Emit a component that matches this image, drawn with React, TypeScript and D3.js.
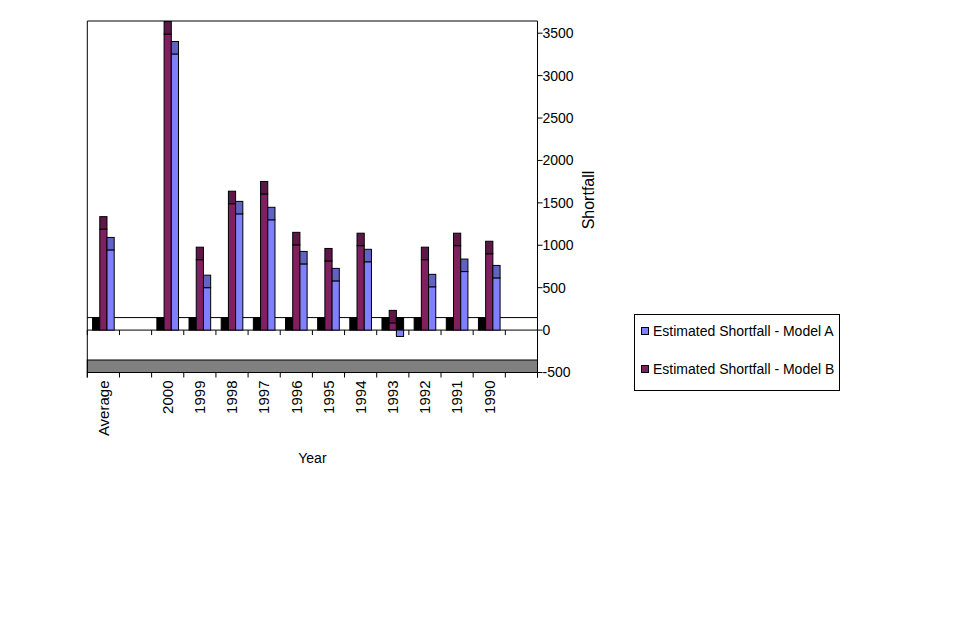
import React from "react";
import * as d3 from "d3";

const categories = ["Average", "", "2000", "1999", "1998", "1997", "1996", "1995", "1994", "1993", "1992", "1991", "1990", ""];
const modelA = [945, null, 3255, 500, 1370, 1300, 780, 580, 805, -75, 510, 690, 615, null];
const modelB = [1190, null, 3490, 830, 1490, 1605, 1005, 815, 995, 85, 830, 995, 900, null];
const yTicks = [-500, 0, 500, 1000, 1500, 2000, 2500, 3000, 3500];
const seriesNames = ["Estimated Shortfall - Model A", "Estimated Shortfall - Model B"];

const W = 977;
const H = 627;
const FONT = "Liberation Sans, Arial, sans-serif";

export default function App() {
  const left = 87.3;
  const right = 537.5;
  const top = 21;
  const depth = 12.5;

  const x = d3.scaleBand<number>().domain(categories.map((_, i) => i)).range([left, right]).padding(0);
  const sub = d3.scaleBand<string>().domain(["shadow", "B", "A"]).range([0, x.bandwidth()]).paddingInner(0).paddingOuter(0.73);
  const y = d3.scaleLinear().domain([-500, 3500]).range([372.5, 33.2]);
  const y0 = y(0);
  const yMin = y(-500);

  const colors = {
    A: { main: "#8080FF", cap: "#6262C4" },
    B: { main: "#802060", cap: "#5E1848" },
  };

  const bw = sub.bandwidth();

  const bars: JSX.Element[] = [];
  categories.forEach((_, i) => {
    const a = modelA[i];
    const b = modelB[i];
    if (a == null || b == null) return;
    const cx = x(i)!;
    // shadow (3D side) at back
    bars.push(
      <rect key={`s${i}`} x={cx + sub("shadow")!} y={y0 - depth} width={bw} height={depth} fill="#000" stroke="#000" strokeWidth={1} />
    );
    const drawBar = (key: "A" | "B", v: number) => {
      const bx = cx + sub(key)!;
      const c = colors[key];
      if (v >= 0) {
        bars.push(
          <g key={`${key}${i}`}>
            <rect x={bx} y={y(v)} width={bw} height={y0 - y(v)} fill={c.main} stroke="#000" strokeWidth={1} />
            <rect x={bx} y={y(v) - depth} width={bw} height={depth} fill={c.cap} stroke="#000" strokeWidth={1} />
          </g>
        );
      } else {
        bars.push(
          <g key={`${key}${i}`}>
            <rect x={bx} y={y0 - depth} width={bw} height={depth} fill="#000" stroke="#000" strokeWidth={1} />
            <rect x={bx} y={y0} width={bw} height={y(v) - y0} fill={c.main} stroke="#000" strokeWidth={1} />
          </g>
        );
      }
    };
    drawBar("B", b);
    drawBar("A", a);
  });

  const boundaries = d3.range(categories.length + 1).map((i) => left + i * x.step());

  return (
    <svg width={W} height={H} style={{ position: "absolute", left: 0, top: 0, background: "#fff" }} fontFamily={FONT}>
      <rect x={0} y={0} width={W} height={H} fill="#fff" />
      {/* floor lines */}
      <line x1={left} x2={right} y1={y0 - depth} y2={y0 - depth} stroke="#000" strokeWidth={1} />
      <line x1={left} x2={right} y1={y0} y2={y0} stroke="#000" strokeWidth={1} />
      {/* bottom gray floor */}
      <rect x={left} y={yMin - depth} width={right - left} height={depth} fill="#808080" stroke="#000" strokeWidth={1} />
      {/* ticks under zero line and gray floor */}
      {boundaries.map((bx, i) => (
        <g key={`t${i}`}>
          <line x1={bx} x2={bx} y1={y0} y2={y0 + 5} stroke="#000" strokeWidth={1} />
          <line x1={bx} x2={bx} y1={yMin} y2={yMin + 5} stroke="#000" strokeWidth={1} />
        </g>
      ))}
      {bars}
      {/* frame */}
      <line x1={left} x2={right} y1={top} y2={top} stroke="#000" strokeWidth={1} />
      <line x1={left} x2={left} y1={top} y2={yMin + 5} stroke="#000" strokeWidth={1} />
      <line x1={right} x2={right} y1={top} y2={yMin + 5} stroke="#000" strokeWidth={1} />
      {/* y axis ticks and labels */}
      {yTicks.map((t) => (
        <g key={`y${t}`}>
          <line x1={right} x2={right + 5} y1={y(t)} y2={y(t)} stroke="#000" strokeWidth={1} />
          <text x={right + 5} y={y(t)} dy="0.35em" fontSize={14} fill="#000">
            {t}
          </text>
        </g>
      ))}
      <text transform={`translate(594,200) rotate(-90)`} textAnchor="middle" fontSize={16} fill="#000">
        Shortfall
      </text>
      {/* category labels */}
      {categories.map((c, i) =>
        c ? (
          <text
            key={`c${i}`}
            transform={`translate(${x(i)! + x.bandwidth() / 2},${yMin + 8}) rotate(-90)`}
            textAnchor="end"
            dy="0.35em"
            fontSize={15}
            fill="#000"
          >
            {c}
          </text>
        ) : null
      )}
      <text x={(left + right) / 2} y={463} textAnchor="middle" fontSize={14} fill="#000">
        Year
      </text>
      {/* legend */}
      <rect x={634.5} y={314.5} width={205} height={76} fill="#fff" stroke="#000" strokeWidth={1} />
      {seriesNames.map((n, i) => {
        const ly = 331 + i * 38;
        const c = i === 0 ? colors.A.main : colors.B.main;
        return (
          <g key={`l${i}`}>
            <rect x={641.5} y={ly - 3.5} width={7} height={7} fill={c} stroke="#000" strokeWidth={1} />
            <text x={653} y={ly} dy="0.35em" fontSize={14} fill="#000">
              {n}
            </text>
          </g>
        );
      })}
    </svg>
  );
}
